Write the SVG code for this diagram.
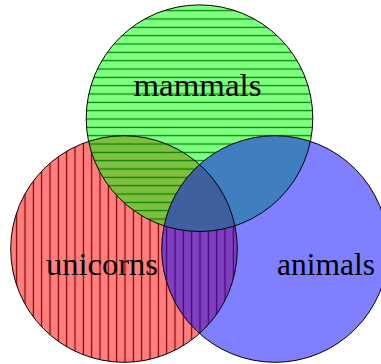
<svg xmlns="http://www.w3.org/2000/svg" width="381" height="364" viewBox="0 0 381 364">
  <style>
    .lbl { font-family: "Liberation Serif", "Times New Roman", serif; font-size: 32.5px; fill: #000; }
    .edge { fill: none; stroke: #000; stroke-width: 1; }
    .fill { fill-opacity: 0.5; stroke: none; }
  </style>
  <defs>
    <pattern id="vl" patternUnits="userSpaceOnUse" x="4.1667" y="0" width="8.3333" height="10">
      <rect x="3.5667" y="-1" width="1.2" height="12" fill="#000"/>
    </pattern>
    <pattern id="hl" patternUnits="userSpaceOnUse" x="0" y="-1.82" width="10" height="8.3333">
      <rect x="-1" y="3.5667" width="12" height="1.2" fill="#000"/>
    </pattern>
    <mask id="mRed" maskUnits="userSpaceOnUse" x="0" y="0" width="381" height="364">
      <circle cx="124" cy="249" r="113.3" fill="#fff"/>
      <circle cx="199.5" cy="118.2" r="113.3" fill="#000"/>
    </mask>
    <mask id="mGreen" maskUnits="userSpaceOnUse" x="0" y="0" width="381" height="364">
      <circle cx="199.5" cy="118.2" r="113.3" fill="#fff"/>
      <circle cx="275" cy="249" r="113.3" fill="#000"/>
    </mask>
  </defs>

  <g id="unicorns">
    <rect x="0" y="0" width="381" height="364" fill="url(#vl)" mask="url(#mRed)"/>
    <circle class="fill" cx="124" cy="249" r="113.3" fill="#ff0000"/>
    <text class="lbl" x="46" y="275" textLength="112" lengthAdjust="spacingAndGlyphs">unicorns</text>
  </g>

  <g id="mammals">
    <rect x="0" y="0" width="381" height="364" fill="url(#hl)" mask="url(#mGreen)"/>
    <circle class="fill" cx="199.5" cy="118.2" r="113.3" fill="#00ff00"/>
    <text class="lbl" x="133.5" y="95.5" textLength="128" lengthAdjust="spacingAndGlyphs">mammals</text>
  </g>

  <g id="animals">
    <circle class="fill" cx="275" cy="249" r="113.3" fill="#0000ff"/>
    <text class="lbl" x="277" y="275" textLength="98" lengthAdjust="spacingAndGlyphs">animals</text>
  </g>

  <g id="outlines">
    <circle class="edge" cx="124" cy="249" r="113.3"/>
    <circle class="edge" cx="199.5" cy="118.2" r="113.3"/>
    <circle class="edge" cx="275" cy="249" r="113.3"/>
  </g>
</svg>
